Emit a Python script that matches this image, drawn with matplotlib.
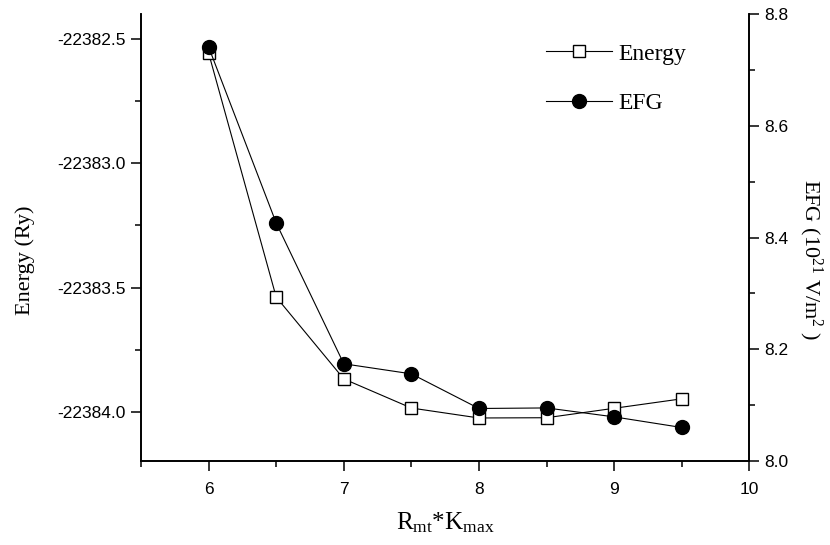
import matplotlib
matplotlib.use('Agg')
import matplotlib.pyplot as plt
from matplotlib.ticker import MultipleLocator, FormatStrFormatter

# data
rk = [6.0, 6.5, 7.0, 7.5, 8.0, 8.5, 9.0, 9.5]
energy = [-22382.557, -22383.538, -22383.867, -22383.984,
          -22384.024, -22384.023, -22383.985, -22383.947]
efg = [8.741, 8.426, 8.174, 8.156, 8.094, 8.095, 8.079, 8.060]

plt.rcParams['mathtext.fontset'] = 'custom'
plt.rcParams['mathtext.rm'] = 'Liberation Serif'
plt.rcParams['mathtext.it'] = 'Liberation Serif'

serif = 'Liberation Serif'
sans = 'Liberation Sans'

fig = plt.figure(figsize=(8.3, 5.45), dpi=100)
ax = fig.add_axes([0.1699, 0.1541, 0.7329, 0.8202])
ax2 = ax.twinx()

l1, = ax.plot(rk, energy, color='black', lw=0.8, marker='s', ms=9,
              mfc='white', mec='black', mew=1.0, label='Energy')
l2, = ax2.plot(rk, efg, color='black', lw=0.8, marker='o', ms=10,
               mfc='black', mec='black', label='EFG')

ax.set_xlim(5.5, 10)
ax.set_ylim(-22384.197, -22382.40)
ax2.set_ylim(8.0, 8.8)

ax.xaxis.set_major_locator(MultipleLocator(1))
ax.xaxis.set_minor_locator(MultipleLocator(0.5))
ax.yaxis.set_major_locator(MultipleLocator(0.5))
ax.yaxis.set_minor_locator(MultipleLocator(0.25))
ax.yaxis.set_major_formatter(FormatStrFormatter('%.1f'))
ax2.yaxis.set_major_locator(MultipleLocator(0.2))
ax2.yaxis.set_minor_locator(MultipleLocator(0.1))
ax2.yaxis.set_major_formatter(FormatStrFormatter('%.1f'))

for a in (ax, ax2):
    a.spines['top'].set_visible(False)
    for s in a.spines.values():
        s.set_linewidth(1.2)
    a.tick_params(which='major', length=7, width=1.1, direction='out',
                  labelsize=12.5, pad=4)
    a.tick_params(which='minor', length=4, width=1.1, direction='out')
    for t in a.get_xticklabels() + a.get_yticklabels():
        t.set_fontfamily(sans)
ax.tick_params(axis='x', which='major', pad=8)

ax.set_xlabel(r'$\mathrm{R_{mt}{*}K_{max}}$', fontsize=18, labelpad=10)
ax.set_ylabel('Energy (Ry)', fontfamily=serif, fontsize=16)
ax.yaxis.set_label_coords(-0.175, 0.45)
ax2.set_ylabel(r'EFG (10$^{21}$ V/m$^{2}$ )', fontfamily=serif,
               fontsize=16, rotation=-90, va='center')
ax2.yaxis.set_label_coords(1.1, 0.45)

leg = ax2.legend([l1, l2], ['Energy', 'EFG'], loc='upper left',
                 bbox_to_anchor=(0.665, 0.935), frameon=False,
                 prop={'family': serif, 'size': 17}, handlelength=2.8,
                 handletextpad=0.3, labelspacing=1.2, borderpad=0,
                 borderaxespad=0)

fig.savefig('out.png', dpi=100)
